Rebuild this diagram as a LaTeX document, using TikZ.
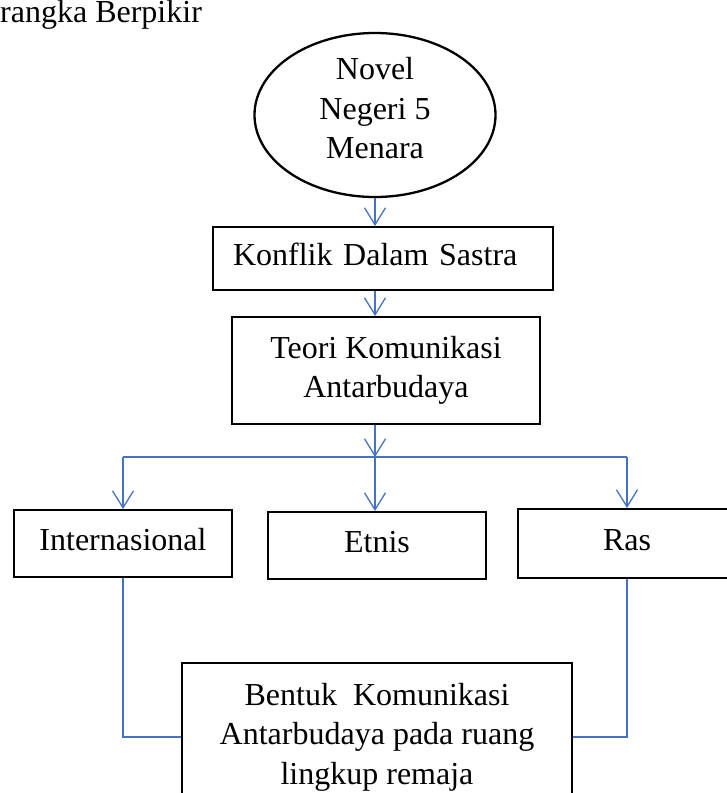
\documentclass[tikz,border=0pt]{standalone}
\usepackage{fontspec}
\setmainfont{Liberation Serif}
\usetikzlibrary{arrows.meta,shapes.geometric}
\definecolor{linkblue}{HTML}{4472C4}

\begin{document}
\begin{tikzpicture}[x=1pt,y=-1pt,
  every node/.style={font=\fontsize{32}{39.5}\selectfont},
  boxnode/.style={rectangle, draw=black, line width=2pt, inner sep=0pt, align=center},
  ovalnode/.style={ellipse, draw=black, line width=2.3pt, inner sep=0pt, align=center},
  onerow/.style={text height=22pt, text depth=9pt},
  arrowline/.style={draw=linkblue, line width=1.3pt, -{Straight Barb[length=17pt,width=21pt]}},
  plainline/.style={draw=linkblue, line width=1.3pt}]
\useasboundingbox (0,0) rectangle (727,793);
\node [anchor=base west, inner sep=0pt] (title) at (0,22) {rangka Berpikir};
\node [ovalnode, minimum width=241pt, minimum height=164pt, text depth=14pt] (novel) at (375,115) {Novel\\Negeri 5\\Menara};
\node [boxnode, onerow, minimum width=340pt, minimum height=63pt, text width=300pt, inner xsep=20pt, align=left] (konflik) at (383,258.5) {Konflik Dalam Sastra};
\node [boxnode, minimum width=308pt, minimum height=107pt] (teori) at (386,370.5) {Teori Komunikasi\\Antarbudaya};
\node [boxnode, onerow, minimum width=218pt, minimum height=67pt] (intl) at (123,543.5) {Internasional};
\node [boxnode, onerow, minimum width=218pt, minimum height=67pt] (etnis) at (377,545.5) {Etnis};
\node [boxnode, onerow, minimum width=218pt, minimum height=69pt] (ras) at (627,543.5) {Ras};
\node [boxnode, minimum width=390pt, minimum height=148pt] (bentuk) at (377,737) {Bentuk~~Komunikasi\\Antarbudaya pada ruang\\lingkup remaja};
\coordinate (split) at (375,457);
% arrows
\draw [arrowline] (novel.south) -- (konflik.north -| novel.south);
\draw [arrowline] (konflik.south -| novel.south) -- (teori.north -| novel.south);
\draw [arrowline] (teori.south -| novel.south) -- (split);
\draw [plainline] (split -| intl.north) -- (split -| ras.north);
\draw [arrowline] (split -| intl.north) -- (intl.north);
\draw [arrowline] (split) -- (split |- etnis.north);
\draw [arrowline] (split -| ras.north) -- (ras.north);
\draw [plainline] (intl.south) |- (bentuk.west);
\draw [plainline] (ras.south) |- (bentuk.east);
\end{tikzpicture}
\end{document}
